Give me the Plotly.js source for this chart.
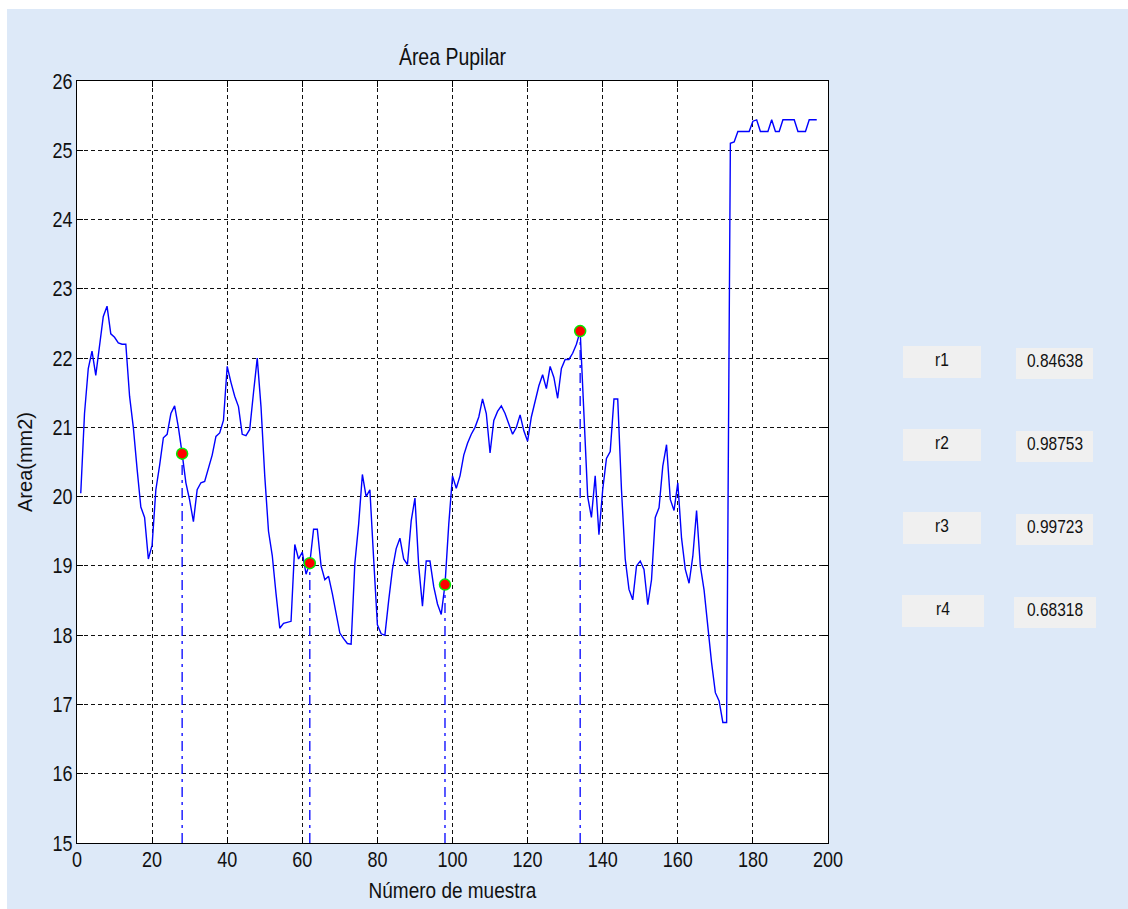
<!DOCTYPE html>
<html>
<head>
<meta charset="utf-8">
<script src="https://cdn.plot.ly/plotly-3.0.1.min.js"></script>
<style>
  html, body { margin: 0; padding: 0; background: #ffffff; }
  #grafico { position: absolute; left: 7px; top: 9px; width: 1121px; height: 900px; }
</style>
</head>
<body>
<div id="grafico"></div>
<script>
// Área pupilar (mm2) por número de muestra
const area = [
  20.05, 21.2, 21.85, 22.1, 21.75, 22.2, 22.6, 22.75, 22.35, 22.3,
  22.22, 22.2, 22.2, 21.45, 21.0, 20.4, 19.85, 19.7, 19.1, 19.3,
  20.1, 20.45, 20.85, 20.9, 21.2, 21.31, 21.0, 20.62, 20.2, 19.95,
  19.64, 20.1, 20.2, 20.22, 20.4, 20.6, 20.87, 20.92, 21.1, 21.88,
  21.65, 21.45, 21.3, 20.9, 20.88, 20.97, 21.5, 22.0, 21.3, 20.3,
  19.5, 19.15, 18.6, 18.1, 18.17, 18.18, 18.2, 19.31, 19.1, 19.2,
  18.88, 19.04, 19.53, 19.53, 19.0, 18.8, 18.85, 18.6, 18.3, 18.03,
  17.95, 17.88, 17.87, 19.04, 19.6, 20.32, 20.0, 20.1, 19.1, 18.15,
  18.02, 18.0, 18.5, 18.95, 19.25, 19.4, 19.1, 19.02, 19.65, 19.98,
  19.0, 18.42, 19.07, 19.07, 18.7, 18.45, 18.3, 18.73, 19.6, 20.3,
  20.12, 20.3, 20.6, 20.77, 20.9, 21.0, 21.15, 21.41, 21.2, 20.63,
  21.1, 21.23, 21.31, 21.2, 21.05, 20.9, 21.0, 21.18, 20.95, 20.8,
  21.15, 21.38, 21.6, 21.76, 21.56, 21.88, 21.72, 21.42, 21.85, 21.98,
  21.98, 22.07, 22.2, 22.39, 21.3, 20.0, 19.7, 20.3, 19.45, 20.1,
  20.55, 20.65, 21.41, 21.41, 20.1, 19.1, 18.66, 18.51, 19.0, 19.07,
  18.95, 18.44, 18.8, 19.7, 19.84, 20.44, 20.75, 19.96, 19.8, 20.2,
  19.4, 18.95, 18.75, 19.14, 19.8, 19.0, 18.65, 18.1, 17.6, 17.17,
  17.05, 16.74, 16.74, 25.1, 25.12, 25.27, 25.27, 25.27, 25.27, 25.42,
  25.44, 25.27, 25.27, 25.27, 25.44, 25.27, 25.27, 25.44, 25.44, 25.44,
  25.44, 25.27, 25.27, 25.27, 25.44, 25.44, 25.44
];

// Número de muestra de cada valor (1, 2, 3, ...)
const muestra = area.map((_, i) => i + 1);

// Muestras señaladas sobre la curva
const puntosClave = [28, 62, 98, 134];

// Coeficientes mostrados a la derecha
const coefNombres = ['r1', 'r2', 'r3', 'r4'];
const coefValores = ['0.84638', '0.98753', '0.99723', '0.68318'];

const FUENTE = '"Liberation Sans", Arial, Helvetica, sans-serif';
const TINTA = '#111111';
const AZUL = '#0000ff';

const traces = [];

// Líneas verticales (punto-raya) desde el eje hasta cada punto señalado
puntosClave.forEach(m => {
  traces.push({
    x: [m, m],
    y: [15, area[m - 1]],
    mode: 'lines',
    line: { color: AZUL, width: 1.3, dash: '10px,5px,3px,5px' },
    hoverinfo: 'skip',
    showlegend: false
  });
});

// Curva principal
traces.push({
  x: muestra,
  y: area,
  mode: 'lines',
  line: { color: AZUL, width: 1.4 },
  showlegend: false
});

// Puntos señalados
traces.push({
  x: puntosClave,
  y: puntosClave.map(m => area[m - 1]),
  mode: 'markers',
  marker: { color: '#ff0000', size: 11, line: { color: '#00ee00', width: 1.5 } },
  showlegend: false
});

// Geometría del área de trazado (px dentro del div)
const M = { l: 70, r: 300, t: 72, b: 66 };
const W = 1121, H = 900;
const PW = W - M.l - M.r, PH = H - M.t - M.b;
// Conversión de px de la página a coordenadas 'paper'
const OX = 7, OY = 9;
const px = X => (X - OX - M.l) / PW;
const py = Y => 1 - (Y - OY - M.t) / PH;

// Cajas de texto de los coeficientes
const cajas = [
  { lab: [903, 981, 346, 378], val: [1016, 1093, 348, 379] },
  { lab: [903, 981, 429, 461], val: [1016, 1093, 431, 462] },
  { lab: [903, 981, 512, 544], val: [1016, 1093, 514, 545] },
  { lab: [902, 984, 595, 627], val: [1014, 1096, 597, 628] }
];

const shapes = [];
const annotations = [];
cajas.forEach((c, i) => {
  [c.lab, c.val].forEach((b, k) => {
    shapes.push({
      type: 'rect', xref: 'paper', yref: 'paper', layer: 'below',
      x0: px(b[0]), x1: px(b[1]), y0: py(b[3]), y1: py(b[2]),
      fillcolor: '#f0f0f0', line: { width: 0 }
    });
    annotations.push({
      xref: 'paper', yref: 'paper',
      x: px((b[0] + b[1]) / 2), y: py((b[2] + b[3]) / 2 - 3),
      xanchor: 'center', yanchor: 'middle', showarrow: false,
      text: k === 0 ? coefNombres[i] : coefValores[i],
      font: { family: FUENTE, size: 15.5, color: TINTA }
    });
  });
});

const ejeComun = {
  showline: true, linecolor: '#000000', linewidth: 1, mirror: 'ticks',
  ticks: 'inside', ticklen: 6, tickcolor: '#000000', tickwidth: 1,
  showgrid: true, gridcolor: '#111111', gridwidth: 1, griddash: '4px,3px',
  zeroline: false, fixedrange: true,
  tickfont: { family: FUENTE, size: 18, color: TINTA }
};

const layout = {
  width: W, height: H,
  margin: M,
  paper_bgcolor: '#dde9f8',
  plot_bgcolor: '#ffffff',
  showlegend: false,
  title: {
    text: 'Área Pupilar',
    font: { family: FUENTE, size: 19.5, color: TINTA },
    x: 0.5, xref: 'paper', xanchor: 'center',
    y: 1 - 48 / H, yref: 'container', yanchor: 'middle'
  },
  xaxis: Object.assign({}, ejeComun, {
    range: [0, 200], tick0: 0, dtick: 20,
    title: { text: 'Número de muestra', standoff: 14, font: { family: FUENTE, size: 19, color: TINTA } }
  }),
  yaxis: Object.assign({}, ejeComun, {
    range: [15, 26], tick0: 15, dtick: 1,
    title: { text: 'Area(mm2)', standoff: 14, font: { family: FUENTE, size: 20, color: TINTA } }
  }),
  shapes: shapes,
  annotations: annotations
};

// Letra algo más alta que ancha: estira cada texto en vertical sobre su centro
function estirarTextos(gd, s) {
  gd.querySelectorAll('.main-svg text').forEach(t => {
    if (t.classList.contains('ytitle')) return;
    const bb = t.getBBox();
    const cy = bb.y + bb.height / 2;
    const prev = t.getAttribute('transform') || '';
    t.setAttribute('transform', prev + ' translate(0,' + cy + ') scale(1,' + s + ') translate(0,' + (-cy) + ')');
  });
}

Plotly.newPlot('grafico', traces, layout, { displayModeBar: false, staticPlot: true })
  .then(gd => estirarTextos(gd, 1.2));
</script>
</body>
</html>
